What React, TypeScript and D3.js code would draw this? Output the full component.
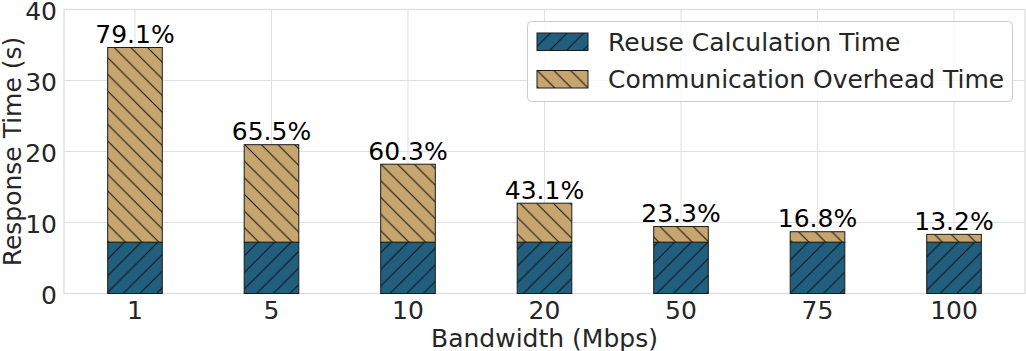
import React from "react";
import * as d3 from "d3";

const categories = ["1", "5", "10", "20", "50", "75", "100"];
const reuseTime = [7.23, 7.23, 7.23, 7.23, 7.23, 7.23, 7.23];
const commTime = [27.42, 13.73, 10.98, 5.49, 2.2, 1.47, 1.1];
const percentLabels = ["79.1%", "65.5%", "60.3%", "43.1%", "23.3%", "16.8%", "13.2%"];
const yTicks = [0, 10, 20, 30, 40];
const seriesNames = ["Reuse Calculation Time", "Communication Overhead Time"];

const W = 1026;
const H = 351;
const left = 64;
const right = 1025;
const top = 9.5;
const bottom = 293.5;
const FONT = "DejaVu Sans, sans-serif";
const FS = 25;
const TEXT = "#262626";
const GRID = "#e0e0e0";
const BLUE = "#225e7e";
const TAN = "#c6a56f";
const S = 16.67;

export default function App() {
  const x = d3.scaleLinear().domain([-0.52, categories.length - 1 + 0.52]).range([left, right]);
  const y = d3.scaleLinear().domain([0, 40]).range([bottom, top]);
  const bw = x(0.4) - x(0);

  const fwd = `M${-S / 2},${S / 2} L${S / 2},${-S / 2} M0,${S} L${S},0 M${S / 2},${1.5 * S} L${1.5 * S},${S / 2}`;
  const back = `M${-S / 2},${S / 2} L${S / 2},${1.5 * S} M0,0 L${S},${S} M${S / 2},${-S / 2} L${1.5 * S},${S / 2}`;

  return (
    <svg width={W} height={H} style={{ position: "absolute", left: 0, top: 0 }} fontFamily={FONT}>
      <defs>
        <pattern id="hatchBlue" patternUnits="userSpaceOnUse" width={S} height={S}>
          <rect width={S} height={S} fill={BLUE} />
          <path d={fwd} stroke="#111" strokeWidth={1} />
        </pattern>
        <pattern id="hatchTan" patternUnits="userSpaceOnUse" width={S} height={S}>
          <rect width={S} height={S} fill={TAN} />
          <path d={back} stroke="#111" strokeWidth={1} />
        </pattern>
      </defs>
      <rect x={0} y={0} width={W} height={H} fill="#fff" />
      {yTicks.map((t) => (
        <line key={"gy" + t} x1={left} x2={right} y1={y(t)} y2={y(t)} stroke={GRID} strokeWidth={1} />
      ))}
      {categories.map((c, i) => (
        <line key={"gx" + c} x1={x(i)} x2={x(i)} y1={top} y2={bottom} stroke={GRID} strokeWidth={1} />
      ))}
      <rect x={left} y={top} width={right - left} height={bottom - top} fill="none" stroke="#dcdcdc" strokeWidth={1.25} />
      {categories.map((c, i) => {
        const r = reuseTime[i];
        const tot = r + commTime[i];
        const x0 = x(i) - bw / 2;
        return (
          <g key={"b" + c}>
            <rect x={x0} y={y(r)} width={bw} height={y(0) - y(r)} fill="url(#hatchBlue)" stroke="#1a1a1a" strokeWidth={1} />
            <rect x={x0} y={y(tot)} width={bw} height={y(r) - y(tot)} fill="url(#hatchTan)" stroke="#1a1a1a" strokeWidth={1} />
            <text x={x(i)} y={y(tot) - 4.5} textAnchor="middle" fontSize={FS} fill="#000">
              {percentLabels[i]}
            </text>
          </g>
        );
      })}
      {yTicks.map((t) => (
        <text key={"yt" + t} x={left - 7} y={y(t)} dy="0.4em" textAnchor="end" fontSize={FS} fill={TEXT}>
          {t}
        </text>
      ))}
      {categories.map((c, i) => (
        <text key={"xt" + c} x={x(i)} y={318.5} textAnchor="middle" fontSize={FS} fill={TEXT}>
          {c}
        </text>
      ))}
      <text x={(left + right) / 2} y={346.5} textAnchor="middle" fontSize={FS} fill={TEXT}>
        Bandwidth (Mbps)
      </text>
      <text transform={`translate(21,${(top + bottom) / 2}) rotate(-90)`} textAnchor="middle" fontSize={FS} fill={TEXT}>
        Response Time (s)
      </text>
      <rect x={527.5} y={21.5} width={485} height={80} rx={4} fill="#fff" fillOpacity={0.8} stroke="#cccccc" strokeWidth={1} />
      {seriesNames.map((n, i) => (
        <g key={"lg" + i}>
          <rect x={537} y={33 + i * 37.5} width={51} height={17.5} fill={i === 0 ? "url(#hatchBlue)" : "url(#hatchTan)"} stroke="#1a1a1a" strokeWidth={1} />
          <text x={608} y={50.5 + i * 37.5} fontSize={FS} fill={TEXT}>
            {n}
          </text>
        </g>
      ))}
    </svg>
  );
}
